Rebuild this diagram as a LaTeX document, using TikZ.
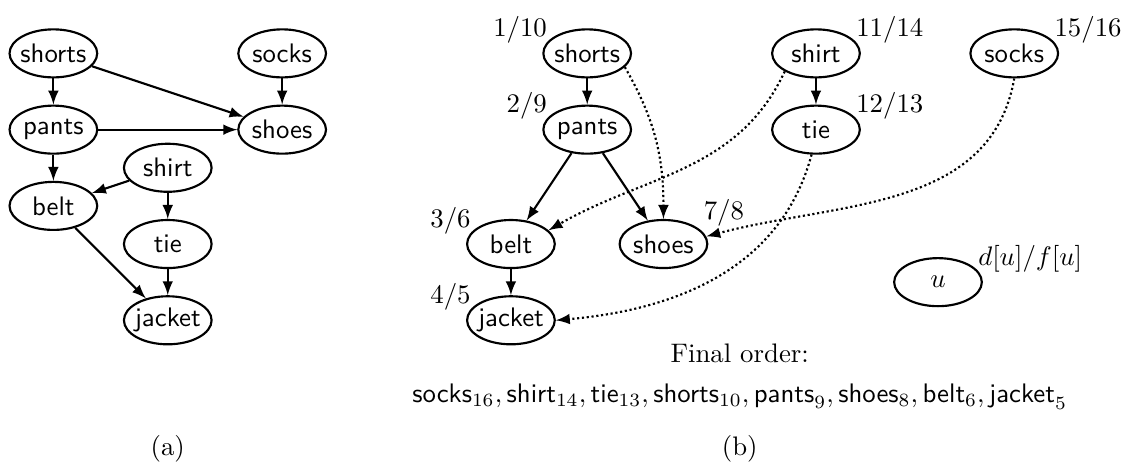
\documentclass[tikz,border=0pt]{standalone}
\usepackage{amsmath}
\usepackage{tikz}
\usetikzlibrary{shapes.geometric,arrows}

\begin{document}
\begin{tikzpicture}[scale=1,
	vert/.style={ellipse,draw,thick,minimum width=1.15cm,minimum height=0.63cm,inner xsep=-3pt,inner ysep=0pt,font=\sffamily},
	every label/.style={inner xsep=3pt,inner ysep=0pt,yshift=-3pt},
	dep/.style={-latex,thick},
	back/.style={-latex,thick,densely dotted}]
	\useasboundingbox (-0.7,-5.39) rectangle (14,0.7);
	% (a) the graph
	\node[vert] (shorts) at (0,0) {shorts};
	\node[vert] (socks) at (3,0) {socks};
	\node[vert] (pants) at (0,-1) {pants};
	\node[vert] (shoes) at (3,-1) {shoes};
	\node[vert] (shirt) at (1.5,-1.5) {shirt};
	\node[vert] (belt) at (0,-2) {belt};
	\node[vert] (tie) at (1.5,-2.5) {tie};
	\node[vert] (jacket) at (1.5,-3.5) {jacket};
	\draw[dep] (shorts) -- (pants);
	\draw[dep] (shorts) -- (shoes);
	\draw[dep] (socks) -- (shoes);
	\draw[dep] (pants) -- (shoes);
	\draw[dep] (pants) -- (belt);
	\draw[dep] (shirt) -- (belt);
	\draw[dep] (shirt) -- (tie);
	\draw[dep] (tie) -- (jacket);
	\draw[dep] (belt) -- (jacket);
	\node (capa) at (1.5,-5.18) {(a)};
	% (b) after the DFS
	\node[vert,label=north west:$1/10$] (shortsb) at (7,0) {shorts};
	\node[vert,label=north west:$2/9$] (pantsb) at (7,-1) {pants};
	\node[vert,label=north west:$3/6$] (beltb) at (6,-2.5) {belt};
	\node[vert,label={[yshift=3pt]north east:$7/8$}] (shoesb) at (8,-2.5) {shoes};
	\node[vert,label=north west:$4/5$] (jacketb) at (6,-3.5) {jacket};
	\node[vert,label=north east:$11/14$] (shirtb) at (10,0) {shirt};
	\node[vert,label=north east:$12/13$] (tieb) at (10,-1) {tie};
	\node[vert,label=north east:$15/16$] (socksb) at (12.6,0) {socks};
	\node[vert,font=\normalfont,label=north east:{$d[u]/f[u]$}] (u) at (11.6,-3) {$u$};
	\draw[dep] (shortsb) -- (pantsb);
	\draw[dep] (pantsb) -- (beltb);
	\draw[dep] (pantsb) -- (shoesb);
	\draw[dep] (beltb) -- (jacketb);
	\draw[dep] (shirtb) -- (tieb);
	\draw[back] (shortsb.-20) to[out=-60,in=90] (shoesb.north);
	\draw[back] (shirtb.-150) to[out=-115,in=30] (beltb.20);
	\draw[back] (socksb.south) to[out=-100,in=15] (shoesb.10);
	\draw[back] (tieb.-100) to[out=-105,in=5] (jacketb.east);
	\node (final) at (9,-3.93) {Final order:};
	\node (order) at (9,-4.5) {$\textsf{socks}_{16}, \textsf{shirt}_{14}, \textsf{tie}_{13}, \textsf{shorts}_{10}, \textsf{pants}_{9}, \textsf{shoes}_{8}, \textsf{belt}_{6}, \textsf{jacket}_{5}$};
	\node (capb) at (9,-5.18) {(b)};
\end{tikzpicture}
\end{document}
